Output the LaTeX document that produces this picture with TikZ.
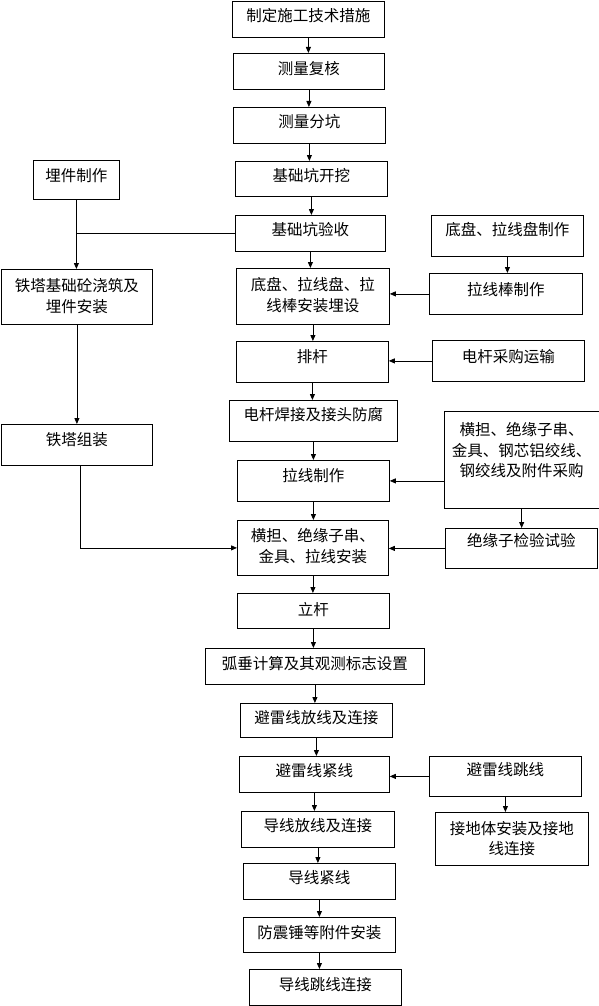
\documentclass[tikz,border=0pt]{standalone}
\usepackage{fontspec}
\setmainfont{Noto Sans CJK SC}
\usetikzlibrary{arrows.meta}
\tikzset{
  box/.style={draw, line width=0.8pt, inner sep=0pt, align=center,
    font=\fontsize{15.5}{20.5}\selectfont},
  conn/.style={line width=0.8pt},
  arr/.style={conn, -{Triangle[length=6pt,width=5pt]}}
}
\newcommand\bx[7]{%
  \pgfmathsetmacro\myW{#4-#2}%
  \pgfmathsetmacro\myT{#6+6-#3}%
  \pgfmathsetmacro\myD{#5-#3-\myT}%
  \node[box, anchor=north west, text width=\myW pt, text height=\myT pt, text depth=\myD pt] (#1) at (#2,-#3) {#7};}
\begin{document}
\begin{tikzpicture}[x=1pt,y=1pt]
\useasboundingbox (0,0) rectangle (599,-1006);
% main column
\bx{m1}{232}{1}{384}{37}{15.5}{制定施工技术措施}
\bx{m2}{233}{53}{384}{89}{68}{测量复核}
\bx{m3}{233}{107}{385}{143}{121.5}{测量分坑}
\bx{m4}{235}{161}{387}{196}{175.5}{基础坑开挖}
\bx{m5}{235}{215}{385}{251}{229.5}{基础坑验收}
\bx{m6}{236}{268}{389}{324}{284.5}{底盘、拉线盘、拉\\线棒安装埋设}
\bx{m7}{236}{341}{388}{382}{356}{排杆}
\bx{m8}{229}{400}{397}{441}{414.5}{电杆焊接及接头防腐}
\bx{m9}{237}{460}{389}{501}{475.5}{拉线制作}
\bx{m10}{237}{520}{388}{575}{535.5}{横担、绝缘子串、\\金具、拉线安装}
\bx{m11}{237}{593}{389}{628}{609}{立杆}
\bx{m12}{205}{648}{424}{684}{663}{弧垂计算及其观测标志设置}
\bx{m13}{240}{703}{392}{737}{717.5}{避雷线放线及连接}
\bx{m14}{239}{756}{389}{792}{770.5}{避雷线紧线}
\bx{m15}{241}{811}{394}{847}{825.5}{导线放线及连接}
\bx{m16}{243}{863}{395}{899}{877.5}{导线紧线}
\bx{m17}{243}{917}{395}{952}{932.5}{防震锤等附件安装}
\bx{m18}{249}{969}{401}{1005}{984.5}{导线跳线连接}
% left column
\bx{L1}{33}{160}{119}{199}{175.5}{埋件制作}
\bx{L2}{1}{269}{152}{324}{285.5}{铁塔基础砼浇筑及\\埋件安装}
\bx{L3}{1}{424}{152}{465}{439.5}{铁塔组装}
% right column
\bx{R1}{431}{215}{583}{256}{229.5}{底盘、拉线盘制作}
\bx{R2}{429}{273}{582}{314}{289}{拉线棒制作}
\bx{R3}{432}{340}{584}{381}{356}{电杆采购运输}
\bx{R4}{444}{411}{598.5}{508}{429.5}{横担、绝缘子串、\\金具、钢芯铝绞线、\\钢绞线及附件采购}
\bx{R5}{445}{528}{597}{568}{540.5}{绝缘子检验试验}
\bx{R6}{429}{756}{581}{796}{769.5}{避雷线跳线}
\bx{R7}{435}{812}{588}{865}{828}{接地体安装及接地\\线连接}
% main chain arrows
\foreach \a/\b in {m1/m2,m2/m3,m3/m4,m4/m5,m5/m6,m6/m7,m7/m8,m8/m9,m9/m10,m10/m11,m11/m12,m12/m13,m13/m14,m14/m15,m15/m16,m16/m17,m17/m18}
  \draw[arr] (\a.south) -- (\a.south |- \b.north);
% left side
\draw[arr] (L1.south) -- (L1.south |- L2.north);
\draw[conn] (m5.west) -- (L1.south |- m5.west);
\draw[arr] (L2.south) -- (L2.south |- L3.north);
\draw[arr] ([xshift=3pt]L3.south) |- (m10.west);
% right side
\draw[arr] (R1.south) -- (R1.south |- R2.north);
\draw[arr] (R2.west) -- (R2.west -| m6.east);
\draw[arr] (R3.west) -- (R3.west -| m7.east);
\draw[arr] (R4.west |- m9.east) -- (m9.east);
\draw[arr] (R4.south) -- (R4.south |- R5.north);
\draw[arr] (R5.west) -- (R5.west -| m10.east);
\draw[arr] (R6.west) -- (R6.west -| m14.east);
\draw[arr] (R6.south) -- (R6.south |- R7.north);
\end{tikzpicture}
\end{document}
